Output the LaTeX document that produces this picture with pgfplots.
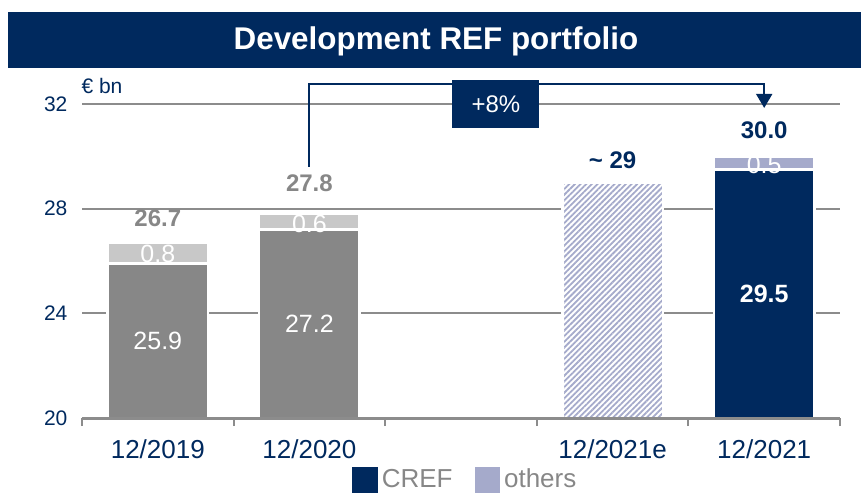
\documentclass[border=0pt]{standalone}
\usepackage{pgfplots}
\pgfplotsset{compat=1.18}
\usepackage{fontspec}
\setmainfont{Liberation Sans}
\usetikzlibrary{patterns.meta,arrows.meta}
\definecolor{cnavy}{HTML}{00295E}
\definecolor{cgray}{HTML}{878787}
\definecolor{clgray}{HTML}{C8C8C8}
\definecolor{clav}{HTML}{A5AACB}
\definecolor{cgrid}{HTML}{8C8C8C}
\begin{document}
\begin{tikzpicture}
% frame and title, in pixel units of the reference (y downwards)
\begin{scope}[x=0.5pt,y=-0.5pt]
\path[use as bounding box] (0,0) rectangle (861,495);
\fill[cnavy] (8,12) rectangle (861,68);
\node[text=white,font=\fontsize{15.7}{18}\selectfont\bfseries] at (436,41) {Development REF portfolio};
\node[text=cnavy,font=\fontsize{10.5}{12}\selectfont] at (102,86) {€ bn};
\end{scope}
\begin{axis}[
  at={(41pt,-209pt)}, anchor=south west,
  scale only axis, width=379pt, height=157pt,
  ybar stacked, bar width=50.25pt,
  xmin=-0.5, xmax=4.5, ymin=20, ymax=32,
  clip mode=individual,
  axis x line*=bottom, axis y line*=left,
  x axis line style={cgrid, line width=1.5pt, -},
  y axis line style={draw=none},
  xtick={0,1,3,4}, xticklabels={12/2019,12/2020,12/2021e,12/2021},
  major x tick style={draw=none},
  minor xtick={-0.5,0.5,1.5,2.5,3.5,4.5},
  minor x tick style={cgrid, line width=1pt},
  minor tick length=4pt, tick align=outside,
  ytick={20,24,28,32}, major y tick style={draw=none},
  ymajorgrids, y grid style={cgrid, line width=1pt},
  yticklabel style={text=cnavy, font=\fontsize{10.5}{12}\selectfont, xshift=0.5pt},
  xticklabel style={text=cnavy, font=\fontsize{13}{15}\selectfont, yshift=-3pt},
  /pgf/number format/assume math mode=true,
  every axis plot/.append style={draw=white, line width=1.25pt},
  legend style={at={(0.507,-0.197)}, anchor=center, draw=none, fill=none,
    legend columns=2, font=\fontsize{13}{15}\selectfont, text=cgray,
    /tikz/every even column/.append style={column sep=9pt}},
]
\addlegendimage{legend image code/.code={\fill[cnavy] (0pt,-5.75pt) rectangle (11.5pt,5.75pt);}}
\addlegendentry{CREF}
\addlegendimage{legend image code/.code={\fill[clav] (0pt,-5.75pt) rectangle (11.5pt,5.75pt);}}
\addlegendentry{others}
% base segments
\addplot[fill=cgray] coordinates {(0,25.9) (1,27.2) (3,0) (4,0)};
\addplot[preaction={fill=white}, pattern={Lines[angle=45,distance=2pt,line width=0.9pt]}, pattern color=clav] coordinates {(0,0) (1,0) (3,29) (4,0)};
\addplot[fill=cnavy] coordinates {(0,0) (1,0) (3,0) (4,29.5)};
% top segments
\addplot[fill=clgray] coordinates {(0,0.8) (1,0.6) (3,0) (4,0)};
\addplot[fill=clav] coordinates {(0,0) (1,0) (3,0) (4,0.5)};
% label anchors
\coordinate (t0) at (axis cs:0,27.62);
\coordinate (t1) at (axis cs:1,28.98);
\coordinate (t3) at (axis cs:3,29.86);
\coordinate (t4) at (axis cs:4,31.0);
\coordinate (b0) at (axis cs:0,22.94);
\coordinate (b1) at (axis cs:1,23.59);
\coordinate (b4) at (axis cs:4,24.74);
\coordinate (s0) at (axis cs:0,26.27);
\coordinate (s1) at (axis cs:1,27.41);
\coordinate (s4) at (axis cs:4,29.67);
\coordinate (a0) at (axis cs:1,29.6);
\coordinate (a1) at (axis cs:4,32.75);
\coordinate (a2) at (axis cs:4,31.85);
\coordinate (bx) at (axis cs:2.23,32.0);
\coordinate (xl) at (axis cs:-0.5,20);
\coordinate (xr) at (axis cs:4.5,20);
\end{axis}
% base line over the bars' feet
\draw[cgrid, line width=1.5pt] (xl) -- (xr);
% totals
\node[text=cgray,font=\fontsize{12}{14}\selectfont\bfseries] at (t0) {26.7};
\node[text=cgray,font=\fontsize{12}{14}\selectfont\bfseries] at (t1) {27.8};
\node[text=cnavy,font=\fontsize{12}{14}\selectfont\bfseries] at (t3) {\textasciitilde\ 29};
\node[text=cnavy,font=\fontsize{12}{14}\selectfont\bfseries] at (t4) {30.0};
% segment values
\node[text=white,font=\fontsize{12.5}{14}\selectfont] at (b0) {25.9};
\node[text=white,font=\fontsize{12.5}{14}\selectfont] at (b1) {27.2};
\node[text=white,font=\fontsize{12.5}{14}\selectfont\bfseries] at (b4) {29.5};
\node[text=white,font=\fontsize{12.5}{14}\selectfont] at (s0) {0.8};
\node[text=white,font=\fontsize{12.5}{14}\selectfont] at (s1) {0.6};
\node[text=white,font=\fontsize{12.5}{14}\selectfont] at (s4) {0.5};
% growth arrow
\draw[cnavy, line width=1pt, -{Triangle[width=8pt,length=7pt]}] (a0) |- (a1) -- (a2);
\node[fill=cnavy, text=white, font=\fontsize{12}{14}\selectfont,
  minimum width=43.5pt, minimum height=24pt, inner sep=0pt] at (bx) {+8\%};
\end{tikzpicture}
\end{document}
